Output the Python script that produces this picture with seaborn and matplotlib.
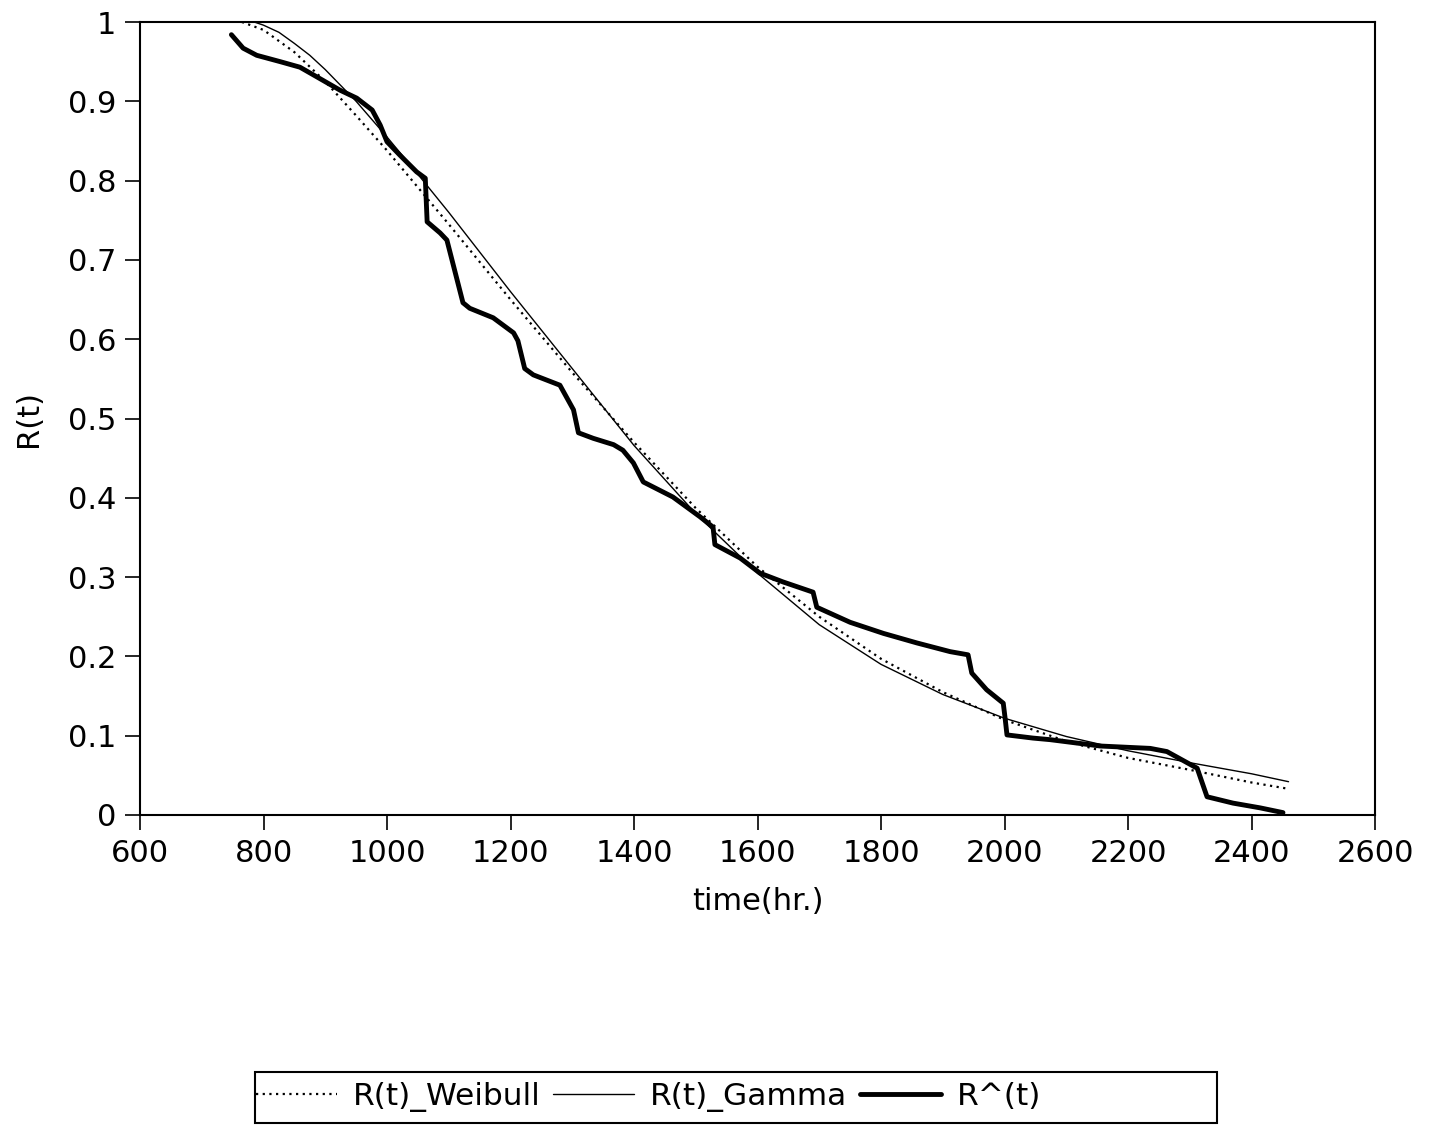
import numpy as np
import pandas as pd
import matplotlib
matplotlib.use('Agg')
import matplotlib.pyplot as plt
from matplotlib.patches import Rectangle
import seaborn as sns

# fitted Weibull reliability
weibull_t = [765, 800, 850, 900, 950, 1000, 1100, 1200, 1300, 1400, 1500,
             1600, 1700, 1800, 1900, 2000, 2100, 2200, 2300, 2400, 2460]
weibull_r = [1.0, 0.99, 0.962, 0.925, 0.882, 0.838, 0.745, 0.65, 0.558, 0.47, 0.387,
             0.313, 0.25, 0.197, 0.155, 0.12, 0.093, 0.072, 0.057, 0.041, 0.033]

# fitted Gamma reliability
gamma_t = [785, 800, 825, 850, 875, 900, 950, 1000, 1050, 1100, 1150, 1200, 1300, 1400,
           1500, 1600, 1700, 1800, 1900, 2000, 2100, 2200, 2300, 2400, 2460]
gamma_r = [1.0, 0.996, 0.987, 0.973, 0.958, 0.94, 0.9, 0.855, 0.808, 0.76, 0.71, 0.66,
           0.563, 0.466, 0.38, 0.305, 0.24, 0.19, 0.152, 0.122, 0.099, 0.081, 0.066,
           0.052, 0.042]

# empirical estimate R^(t)
emp_t = [748, 767, 789, 827, 859, 886, 924, 951, 976, 989, 1000, 1021, 1048, 1062,
         1065, 1086, 1097, 1123, 1134, 1172, 1205, 1212, 1223, 1237, 1280, 1302, 1310,
         1334, 1367, 1382, 1399, 1415, 1463, 1507, 1528, 1531, 1572, 1604, 1641, 1690,
         1696, 1750, 1804, 1858, 1912, 1941, 1947, 1971, 1998, 2001, 2004, 2046, 2074,
         2155, 2236, 2263, 2312, 2328, 2370, 2414, 2451]
emp_r = [0.984, 0.967, 0.958, 0.950, 0.943, 0.931, 0.914, 0.904, 0.889, 0.870, 0.849,
         0.832, 0.811, 0.803, 0.748, 0.734, 0.725, 0.646, 0.639, 0.627, 0.608, 0.598,
         0.563, 0.555, 0.542, 0.511, 0.482, 0.475, 0.467, 0.460, 0.444, 0.420, 0.401,
         0.376, 0.363, 0.341, 0.324, 0.305, 0.294, 0.281, 0.262, 0.243, 0.229, 0.217,
         0.206, 0.202, 0.179, 0.158, 0.141, 0.122, 0.101, 0.097, 0.095, 0.087, 0.084,
         0.080, 0.059, 0.023, 0.015, 0.009, 0.003]

x_ticks = [600, 800, 1000, 1200, 1400, 1600, 1800, 2000, 2200, 2400, 2600]
y_ticks = [0, 0.1, 0.2, 0.3, 0.4, 0.5, 0.6, 0.7, 0.8, 0.9, 1.0]
y_labels = ['0', '0.1', '0.2', '0.3', '0.4', '0.5', '0.6', '0.7', '0.8', '0.9', '1']

sns.set_style('ticks')
plt.rcParams['font.family'] = ['DejaVu Sans']
plt.rcParams['text.color'] = 'black'
plt.rcParams['axes.labelcolor'] = 'black'

fig = plt.figure(figsize=(14.34, 11.25), dpi=100)
ax = fig.add_axes([140 / 1434, 1 - 815 / 1125, (1375 - 140) / 1434, (815 - 22) / 1125])

df_w = pd.DataFrame({'t': weibull_t, 'r': weibull_r})
df_g = pd.DataFrame({'t': gamma_t, 'r': gamma_r})
df_e = pd.DataFrame({'t': emp_t, 'r': emp_r})

sns.lineplot(data=df_w, x='t', y='r', ax=ax, color='black', lw=1.6,
             linestyle=(0, (1, 2)), label='R(t)_Weibull', estimator=None, sort=False)
sns.lineplot(data=df_g, x='t', y='r', ax=ax, color='black', lw=1.0,
             label='R(t)_Gamma', estimator=None, sort=False)
sns.lineplot(data=df_e, x='t', y='r', ax=ax, color='black', lw=3.5,
             label='R^(t)', estimator=None, sort=False)

ax.set_xlim(600, 2600)
ax.set_ylim(0, 1)
ax.set_xticks(x_ticks)
ax.set_yticks(y_ticks)
ax.set_yticklabels(y_labels)
ax.tick_params(axis='both', direction='out', length=11, width=1.2, labelsize=22,
               colors='black', pad=6)
for sp in ax.spines.values():
    sp.set_visible(True)
    sp.set_linewidth(1.5)
    sp.set_color('black')

ax.set_xlabel('time(hr.)', fontsize=22, labelpad=14, color='black')
ax.set_ylabel('R(t)', fontsize=22, labelpad=18, color='black')

handles, labels = ax.get_legend_handles_labels()
ax.get_legend().remove()
leg = fig.legend(handles, labels, loc='center left', ncol=3, frameon=False,
                 bbox_to_anchor=(256 / 1434, 1 - 1097 / 1125), fontsize=22.5,
                 handlelength=2.6, handletextpad=0.5, columnspacing=0.4, borderpad=0,
                 borderaxespad=0)
for txt in leg.get_texts():
    txt.set_color('black')
fig.patches.append(Rectangle((255 / 1434, 1 - 1123 / 1125), (1217 - 255) / 1434,
                             (1123 - 1072) / 1125, transform=fig.transFigure,
                             fill=False, edgecolor='black', lw=1.5))

fig.savefig('out.png', dpi=100)
